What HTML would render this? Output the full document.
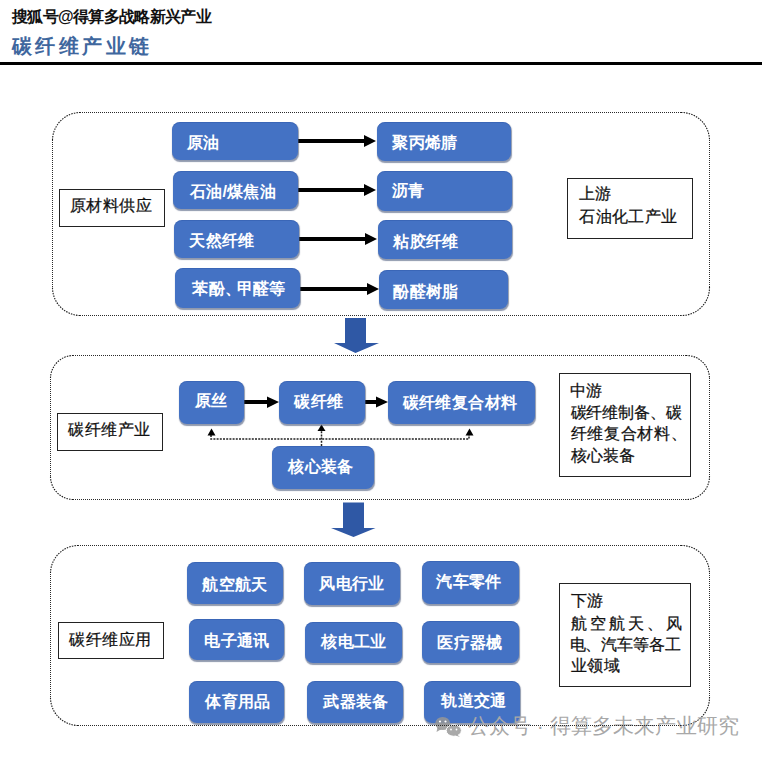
<!DOCTYPE html>
<html><head><meta charset="utf-8">
<style>
html,body{margin:0;padding:0;background:#fff;}
body{width:762px;height:757px;position:relative;overflow:hidden;font-family:"Liberation Sans",sans-serif;}
.a{position:absolute;}
.wm{left:12px;top:7px;font-size:16px;letter-spacing:-0.65px;font-weight:bold;color:#111;white-space:nowrap;}
.title{left:12px;top:33px;font-size:20px;font-weight:bold;color:#3f679e;letter-spacing:3.4px;white-space:nowrap;}
.hr{left:0;top:62px;width:762px;height:3px;background:#000;}
.bx{position:absolute;box-sizing:border-box;background:#4472c4;border-radius:8px;
  box-shadow:0.5px 1.5px 1px rgba(70,85,120,0.6), inset 0 1px 0 rgba(40,80,160,0.35);}
.tx{position:absolute;color:#fff;font-weight:bold;font-size:16.0px;line-height:20px;white-space:nowrap;transform:translate(-50%,-50%) scale(var(--sc,1));}
body{--sc:1.025;}
.dun{display:inline-block;width:0.78em;overflow:visible;margin-right:-1px;}
.lbl{position:absolute;border:1px solid #222;background:#fff;box-sizing:border-box;}
.lt{position:absolute;-webkit-text-stroke:0.25px #111;font-size:16.3px;line-height:20px;color:#111;white-space:nowrap;}
svg{position:absolute;left:0;top:0;}
</style></head><body>
<div class="a wm">搜狐号@得算多战略新兴产业</div>
<div class="a title">碳纤维产业链</div>
<div class="a hr"></div>
<svg width="762" height="757">
  <g fill="none" stroke="#2a2a2a" stroke-width="1" stroke-dasharray="1 1">
    <path d="M80 112.5H681M709.5 140V287M681 315.5H80M52.5 287V140M73 355.5H686M709.5 378V476M686 499.5H73M50.5 476V378M78 545.5H681M709.5 573V697M681 725.5H78M50.5 697V573"/>
  </g>
  <g fill="none" stroke="#1a1a1a" stroke-width="1.1" stroke-dasharray="1.5 1.1">
    <path d="M681 112.5A28 28 0 0 1 709.5 140M709.5 287A28 28 0 0 1 681 315.5M80 315.5A28 28 0 0 1 52.5 287M52.5 140A28 28 0 0 1 80 112.5M686 355.5A23 23 0 0 1 709.5 378M709.5 476A23 23 0 0 1 686 499.5M73 499.5A23 23 0 0 1 50.5 476M50.5 378A23 23 0 0 1 73 355.5M681 545.5A28 28 0 0 1 709.5 573M709.5 697A28 28 0 0 1 681 725.5M78 725.5A28 28 0 0 1 50.5 697M50.5 573A28 28 0 0 1 78 545.5"/>
  </g>
  <g fill="#000">
    <rect x="298" y="139" width="67" height="4"/><polygon points="364,135 376,141 364,147"/>
    <rect x="298" y="188" width="67" height="4"/><polygon points="364,184 376,190 364,196"/>
    <rect x="299" y="237" width="67" height="4"/><polygon points="365,233 377,239 365,245"/>
    <rect x="300" y="287" width="68" height="4"/><polygon points="367,283 379,289 367,295"/>
    <rect x="244" y="400" width="24" height="4"/><polygon points="267,396.4 279,402 267,407.9"/>
    <rect x="365" y="400" width="12" height="4"/><polygon points="376,396.5 388,402 376,407.5"/>
  </g>
  <g fill="#2f58a5">
    <polygon points="345,318 366,318 366,343 379,343 355.5,353 334,343 345,343"/>
    <polygon points="343,502.5 364,502.5 364,528 375.5,528 353.5,537 331,528 343,528"/>
  </g>
  <g fill="none" stroke="#222" stroke-width="1.5" stroke-dasharray="2 1.2">
    <path d="M211 435 V439 H469 V435"/>
    <path d="M321.5 446 V430"/>
  </g>
  <g fill="#000">
    <polygon points="207.5,435.5 211.5,428.5 215.5,435.5"/>
    <polygon points="317.5,431 321.5,424.5 325.5,431"/>
    <polygon points="465.5,435.5 469.5,428.5 473.5,435.5"/>
  </g>
</svg>
<div class="bx" style="left:172.0px;top:122.0px;width:126.0px;height:38.0px;"></div><div class="tx" id="t0" style="left:203.00px;top:142.75px;">原油</div>
<div class="bx" style="left:172.5px;top:171.0px;width:125.1px;height:37.5px;"></div><div class="tx" id="t1" style="left:232.50px;top:191.75px;">石油/煤焦油</div>
<div class="bx" style="left:174.0px;top:220.0px;width:125.0px;height:38.0px;"></div><div class="tx" id="t2" style="left:222.25px;top:241.25px;">天然纤维</div>
<div class="bx" style="left:175.0px;top:267.5px;width:125.0px;height:40.9px;"></div><div class="tx" id="t3" style="left:238.50px;top:288.50px;">苯酚<span class="dun">、</span>甲醛等</div>
<div class="bx" style="left:377.0px;top:122.0px;width:133.7px;height:39.0px;"></div><div class="tx" id="t4" style="left:424.50px;top:142.75px;">聚丙烯腈</div>
<div class="bx" style="left:377.0px;top:171.0px;width:135.0px;height:39.5px;"></div><div class="tx" id="t5" style="left:408.25px;top:191.00px;">沥青</div>
<div class="bx" style="left:378.0px;top:220.0px;width:133.7px;height:39.0px;"></div><div class="tx" id="t6" style="left:426.00px;top:242.25px;">粘胶纤维</div>
<div class="bx" style="left:379.0px;top:270.0px;width:128.8px;height:39.4px;"></div><div class="tx" id="t7" style="left:426.00px;top:292.00px;">酚醛树脂</div>
<div class="bx" style="left:179.3px;top:380.8px;width:65.0px;height:43.0px;"></div><div class="tx" id="t8" style="left:210.50px;top:401.00px;">原丝</div>
<div class="bx" style="left:279.0px;top:380.5px;width:86.2px;height:43.3px;"></div><div class="tx" id="t9" style="left:319.00px;top:402.00px;">碳纤维</div>
<div class="bx" style="left:387.6px;top:380.5px;width:147.7px;height:43.5px;"></div><div class="tx" id="t10" style="left:460.00px;top:403.00px;">碳纤维复合材料</div>
<div class="bx" style="left:272.2px;top:445.5px;width:101.5px;height:43.3px;"></div><div class="tx" id="t11" style="left:320.50px;top:466.75px;">核心装备</div>
<div class="bx" style="left:186.6px;top:561.6px;width:96.6px;height:42.2px;"></div><div class="tx" id="t12" style="left:234.75px;top:585.00px;">航空航天</div>
<div class="bx" style="left:304.4px;top:561.6px;width:95.3px;height:43.1px;"></div><div class="tx" id="t13" style="left:351.50px;top:584.00px;">风电行业</div>
<div class="bx" style="left:422.0px;top:560.8px;width:96.7px;height:42.9px;"></div><div class="tx" id="t14" style="left:469.25px;top:582.00px;">汽车零件</div>
<div class="bx" style="left:188.5px;top:619.0px;width:95.6px;height:41.3px;"></div><div class="tx" id="t15" style="left:237.00px;top:640.75px;">电子通讯</div>
<div class="bx" style="left:305.3px;top:622.0px;width:96.6px;height:41.3px;"></div><div class="tx" id="t16" style="left:353.75px;top:642.25px;">核电工业</div>
<div class="bx" style="left:422.0px;top:620.9px;width:96.7px;height:41.8px;"></div><div class="tx" id="t17" style="left:470.00px;top:642.50px;">医疗器械</div>
<div class="bx" style="left:188.5px;top:681.0px;width:95.5px;height:42.0px;"></div><div class="tx" id="t18" style="left:237.50px;top:702.25px;">体育用品</div>
<div class="bx" style="left:306.8px;top:681.0px;width:96.0px;height:42.0px;"></div><div class="tx" id="t19" style="left:355.50px;top:701.75px;">武器装备</div>
<div class="bx" style="left:424.3px;top:681.0px;width:96.2px;height:41.8px;"></div><div class="tx" id="t20" style="left:473.50px;top:701.25px;">轨道交通</div>
<div class="lbl" style="left:59.4px;top:189.0px;width:105.6px;height:37.5px;"></div>
<div class="lbl" style="left:567.3px;top:178.3px;width:125.5px;height:61.0px;"></div>
<div class="lbl" style="left:56.6px;top:412.6px;width:106.4px;height:38.1px;"></div>
<div class="lbl" style="left:558.9px;top:373.3px;width:131.8px;height:103.5px;"></div>
<div class="lbl" style="left:57.6px;top:622.0px;width:106.1px;height:37.3px;"></div>
<div class="lbl" style="left:558.9px;top:583.3px;width:131.8px;height:103.5px;"></div>
<div class="lt" id="l0" style="left:69.50px;top:194.90px;letter-spacing:0.55px;">原材料供应</div>
<div class="lt" id="l1" style="left:578.60px;top:183.10px;letter-spacing:0.40px;">上游</div>
<div class="lt" id="l2" style="left:579.30px;top:205.60px;letter-spacing:0.35px;">石油化工产业</div>
<div class="lt" id="l3" style="left:68.10px;top:418.65px;letter-spacing:0.50px;">碳纤维产业</div>
<div class="lt" id="l4" style="left:569.50px;top:380.40px;letter-spacing:0.50px;">中游</div>
<div class="lt" id="l5" style="left:570.50px;top:401.55px;letter-spacing:-0.10px;">碳纤维制备、碳</div>
<div class="lt" id="l6" style="left:570.50px;top:423.10px;letter-spacing:0.70px;">纤维复合材料、</div>
<div class="lt" id="l7" style="left:570.50px;top:444.75px;letter-spacing:0.30px;">核心装备</div>
<div class="lt" id="l8" style="left:69.30px;top:628.85px;letter-spacing:0.55px;">碳纤维应用</div>
<div class="lt" id="l9" style="left:570.50px;top:589.75px;letter-spacing:0.30px;">下游</div>
<div class="lt" id="l10" style="left:570.50px;top:612.55px;letter-spacing:3.00px;">航空航天、风</div>
<div class="lt" id="l11" style="left:569.50px;top:633.60px;letter-spacing:-0.10px;">电、汽车等各工</div>
<div class="lt" id="l12" style="left:570.50px;top:654.75px;letter-spacing:0.50px;">业领域</div>
<svg width="762" height="757">
  <g fill="rgba(150,150,150,0.85)">
    <ellipse cx="442.7" cy="723.5" rx="7.4" ry="6.6"/>
    <polygon points="437.5,727.5 436.5,732 441.5,729"/>
  </g>
  <g fill="rgba(160,160,160,0.9)" stroke="#fff" stroke-width="1">
    <ellipse cx="453.8" cy="730.5" rx="7.6" ry="5.8"/>
  </g>
  <g fill="rgba(160,160,160,0.9)"><polygon points="457,734.5 460,737 455.5,735.5"/></g>
  <g fill="#fff">
    <circle cx="440" cy="721.5" r="1.1"/><circle cx="445.5" cy="721.5" r="1.1"/>
    <circle cx="451" cy="729.5" r="0.9"/><circle cx="456.5" cy="729.5" r="0.9"/>
  </g>
</svg>
<div class="a" id="wm2" style="left:468px;top:714px;font-size:21px;line-height:24px;color:#a8a8a8;white-space:nowrap;">公众号 · 得算多未来产业研究</div>
<svg width="762" height="757"><g fill="none" stroke="#2a2a2a" stroke-width="1" stroke-dasharray="1 1"><path d="M681 725.5H78"/></g></svg>

</body></html>
